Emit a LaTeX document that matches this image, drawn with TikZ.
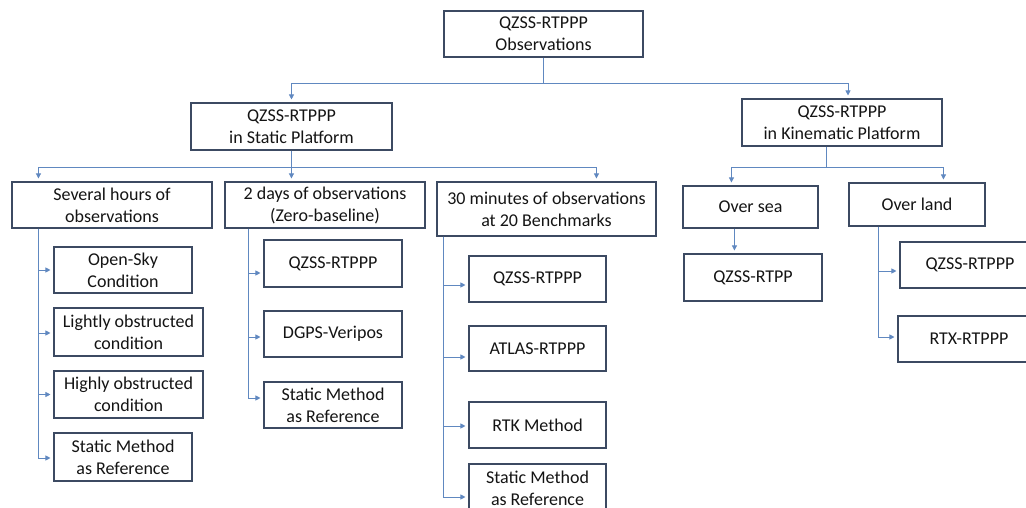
\documentclass[tikz,border=0pt]{standalone}
\usepackage{fontspec}
\setmainfont{Carlito}
\usetikzlibrary{arrows.meta,calc}
\definecolor{boxc}{RGB}{60,74,98}
\definecolor{linec}{RGB}{96,136,192}
\definecolor{txtc}{RGB}{20,20,20}
\begin{document}
\begin{tikzpicture}[x=1pt,y=-1pt,
  box/.style={draw=boxc,line width=1.1pt,fill=white,text=txtc,align=center,inner sep=0pt,font=\fontsize{18}{22}\selectfont},
  ln/.style={draw=linec,line width=0.8pt},
  arr/.style={ln,-{Triangle[length=5pt,width=5pt]},shorten >=3pt}]
\useasboundingbox (0,0) rectangle (1026,508);
\clip (0,0) rectangle (1026,508);
\fill[white] (0,0) rectangle (1026,508);
% level 0-1
\node[box,minimum width=199pt,minimum height=46pt] (top) at (543.5,34) {QZSS-RTPPP\\Observations};
\node[box,minimum width=201pt,minimum height=47pt] (static) at (291.5,126.5) {QZSS-RTPPP\\in Static Platform};
\node[box,minimum width=200pt,minimum height=47pt] (kin) at (842,122.5) {QZSS-RTPPP\\in Kinematic Platform};
% level 2
\node[box,minimum width=200pt,minimum height=46pt] (sev) at (112,205) {Several hours of\\observations};
\node[box,minimum width=200pt,minimum height=46pt] (days) at (325,205) {2 days of observations\\(Zero-baseline)};
\node[box,minimum width=219pt,minimum height=54pt] (min30) at (546.5,209) {30 minutes of observations\\at 20 Benchmarks};
\node[box,minimum width=135pt,minimum height=42pt] (sea) at (750.5,207) {Over sea};
\node[box,minimum width=136pt,minimum height=43pt] (land) at (917,204.5) {Over land};
% column 1
\node[box,minimum width=138pt,minimum height=46pt] (open) at (123,270) {Open-Sky\\Condition};
\node[box,minimum width=149pt,minimum height=48pt] (light) at (128.5,332) {Lightly obstructed\\condition};
\node[box,minimum width=149pt,minimum height=47pt] (high) at (128.5,394.5) {Highly obstructed\\condition};
\node[box,minimum width=138pt,minimum height=48pt] (stata) at (123,457) {Static Method\\as Reference};
% column 2
\node[box,minimum width=138pt,minimum height=47pt] (qb) at (333,263.5) {QZSS-RTPPP};
\node[box,minimum width=138pt,minimum height=46pt] (dgps) at (333,334) {DGPS-Veripos};
\node[box,minimum width=138pt,minimum height=46pt] (statb) at (333,405) {Static Method\\as Reference};
% column 3
\node[box,minimum width=137pt,minimum height=46pt] (qc) at (537.5,279) {QZSS-RTPPP};
\node[box,minimum width=137pt,minimum height=45pt] (atlas) at (537.5,348.5) {ATLAS-RTPPP};
\node[box,minimum width=137pt,minimum height=46pt] (rtk) at (537.5,425) {RTK Method};
\node[box,minimum width=137pt,minimum height=48pt] (statc) at (537.5,488) {Static Method\\as Reference};
% kinematic children
\node[box,minimum width=138pt,minimum height=47pt] (rtpp) at (753,277.5) {QZSS-RTPP};
\node[box,minimum width=140pt,minimum height=46pt] (qd) at (970,265) {QZSS-RTPPP};
\node[box,minimum width=142pt,minimum height=46pt] (rtx) at (969,339) {RTX-RTPPP};
% connectors top
\coordinate (j0) at ($(top.south)+(0,26)$);
\draw[ln] (top.south) -- (j0);
\draw[arr] (j0) -| (static.north);
\draw[arr] (j0) -| ($(kin.north)+(6,0)$);
% static branches
\coordinate (j1) at ($(static.south)+(0,17)$);
\draw[ln] (static.south) -- (j1);
\draw[arr] (j1) -| ($(sev.north west)+(27,0)$);
\draw[arr] (j1) -| ($(days.north west)+(67,0)$);
\draw[arr] (j1) -| ($(min30.north west)+(160,0)$);
% kinematic branches
\coordinate (k0) at ($(kin.south west)+(85,0)$);
\coordinate (j2) at ($(k0)+(0,21)$);
\draw[ln] (k0) -- (j2);
\draw[arr] (j2) -| ($(sea.north west)+(49,0)$);
\draw[arr] (j2) -| ($(land.north west)+(95,0)$);
\draw[arr] ($(sea.south west)+(52,0)$) -- ($(rtpp.north west)+(51,0)$);
\coordinate (tl) at ($(land.south west)+(30,0)$);
\draw[arr] (tl) |- ($(qd.west)+(0,6)$);
\draw[arr] (tl) |- ($(rtx.west)+(0,-2)$);
% column 1
\coordinate (t1) at ($(sev.south west)+(27,0)$);
\draw[arr] (t1) |- (open.west);
\draw[arr] (t1) |- ($(light.west)+(0,1)$);
\draw[arr] (t1) |- (high.west);
\draw[arr] (t1) |- ($(stata.west)+(0,1)$);
% column 2
\coordinate (t2) at ($(days.south west)+(24,0)$);
\draw[arr] (t2) |- ($(qb.west)+(0,9.5)$);
\draw[arr] (t2) |- ($(dgps.west)+(0,3)$);
\draw[arr] (t2) |- ($(statb.west)+(0,-7)$);
% column 3
\coordinate (t3) at ($(min30.south west)+(7,0)$);
\draw[arr] (t3) |- ($(qc.west)+(0,6)$);
\draw[arr] (t3) |- ($(atlas.west)+(0,8.5)$);
\draw[arr] (t3) |- ($(rtk.west)+(0,1)$);
\draw[arr] (t3) |- ($(statc.west)+(0,9)$);
\end{tikzpicture}
\end{document}
